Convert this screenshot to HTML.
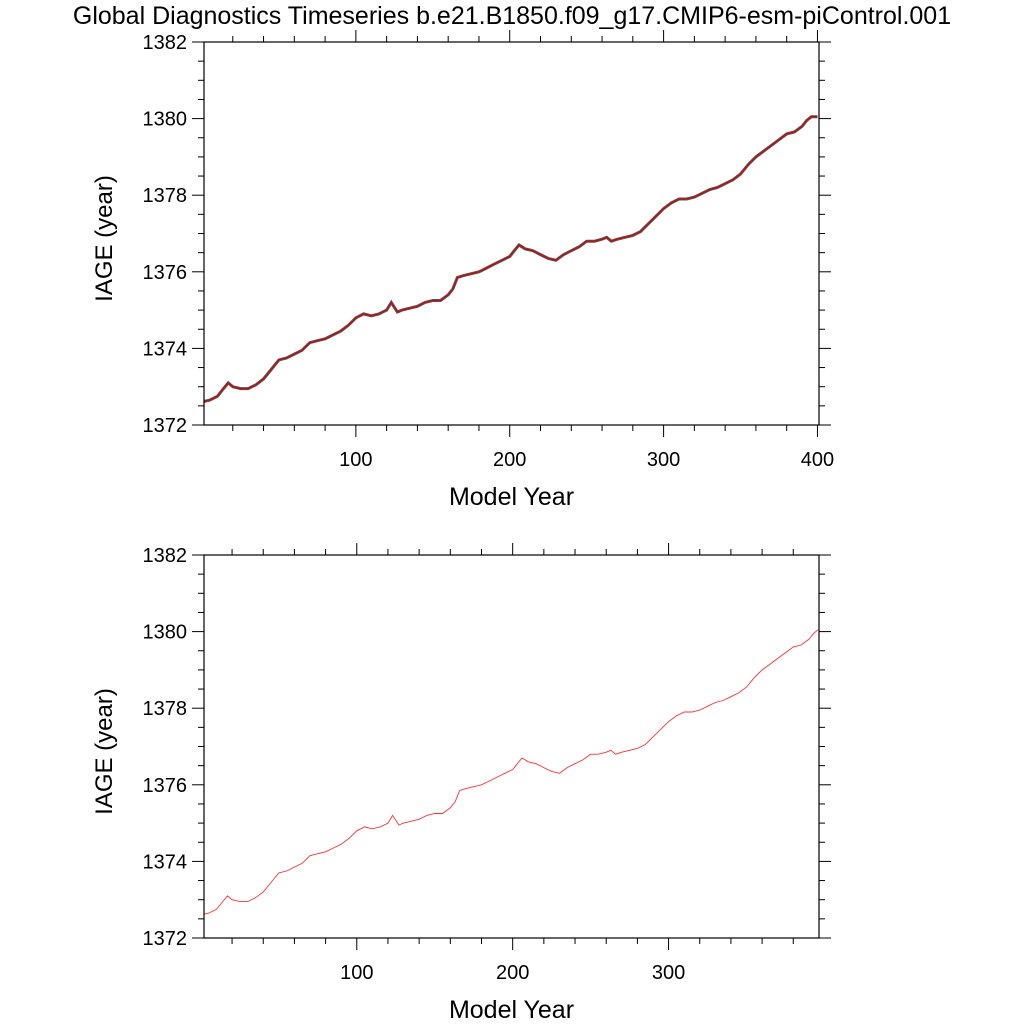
<!DOCTYPE html>
<html><head><meta charset="utf-8"><style>
body{margin:0;background:#fff}
svg text{font-family:"Liberation Sans",sans-serif;fill:#000}
</style></head><body>
<svg id="chart" width="1024" height="1024" viewBox="0 0 1024 1024" xmlns="http://www.w3.org/2000/svg">
<text x="512" y="24" font-size="25" text-anchor="middle">Global Diagnostics Timeseries b.e21.B1850.f09_g17.CMIP6-esm-piControl.001</text>
</svg>
<script>
const years = [0,5,10,14,17,20,25,30,35,40,45,50,55,60,65,70,75,80,85,90,95,100,105,110,115,120,123,127,130,135,140,145,150,155,160,163,166,170,175,180,185,190,195,200,203,206,210,215,220,225,230,235,240,245,250,255,260,263,266,270,275,280,285,290,295,300,305,310,315,320,325,330,335,340,345,350,355,360,365,370,375,380,385,390,393,396,400];
const iage = [1372.6,1372.65,1372.75,1372.95,1373.1,1373.0,1372.95,1372.95,1373.05,1373.2,1373.45,1373.7,1373.75,1373.85,1373.95,1374.15,1374.2,1374.25,1374.35,1374.45,1374.6,1374.8,1374.9,1374.85,1374.9,1375.0,1375.2,1374.95,1375.0,1375.05,1375.1,1375.2,1375.25,1375.25,1375.4,1375.55,1375.85,1375.9,1375.95,1376.0,1376.1,1376.2,1376.3,1376.4,1376.55,1376.7,1376.6,1376.55,1376.45,1376.35,1376.3,1376.45,1376.55,1376.65,1376.8,1376.8,1376.85,1376.9,1376.8,1376.85,1376.9,1376.95,1377.05,1377.25,1377.45,1377.65,1377.8,1377.9,1377.9,1377.95,1378.05,1378.15,1378.2,1378.3,1378.4,1378.55,1378.8,1379.0,1379.15,1379.3,1379.45,1379.6,1379.65,1379.8,1379.95,1380.05,1380.05];
const yTicks = [1372,1374,1376,1378,1380,1382];
const xTicksTop = [100,200,300,400];
const xTicksBot = [100,200,300];
const NS='http://www.w3.org/2000/svg';
const svg=document.getElementById('chart');
function mk(tag,attrs,parent){const e=document.createElementNS(NS,tag);for(const k in attrs)e.setAttribute(k,attrs[k]);(parent||svg).appendChild(e);return e;}
function panel(id,L,R,T,B,x0,x1,xt,noisy){
  const g=mk('g',{});
  
  
  const sx=v=>L+(v-x0)/(x1-x0)*(R-L);
  const sy=v=>B-(v-1372)/10*(B-T);
  for(let v=20;v<x1;v+=20){const x=sx(v);if(x<=L+1||x>=R-1)continue;const maj=v%100===0;
    mk('line',{x1:x,x2:x,y1:B,y2:B+(maj?12:6),stroke:'#000','stroke-width':1},g);
    mk('line',{x1:x,x2:x,y1:T,y2:T-(maj?12:6),stroke:'#000','stroke-width':1},g);}
  for(let v=1372;v<=1382.001;v+=0.5){const y=sy(v);const maj=Math.abs(v%2)<0.01;
    mk('line',{x1:L,x2:L-(maj?12:6),y1:y,y2:y,stroke:'#000','stroke-width':1},g);
    mk('line',{x1:R,x2:R+(maj?12:6),y1:y,y2:y,stroke:'#000','stroke-width':1},g);}
  yTicks.forEach(v=>{const t=mk('text',{x:L-17,y:sy(v)+7,'font-size':20,'text-anchor':'end'},g);t.textContent=v;
    
    });
  xt.forEach(v=>{const t=mk('text',{x:sx(v),y:B+41,'font-size':20,'text-anchor':'middle'},g);t.textContent=v;
    
    });
  const cp='clip-'+id;
  const cl=mk('clipPath',{id:cp},g);mk('rect',{x:L,y:T,width:R-L,height:B-T},cl);
  const pts=[];years.forEach((yr,i)=>{if(yr<=x1+3)pts.push(sx(yr).toFixed(1)+','+sy(iage[i]).toFixed(1));});
  if(noisy){const n=mk('polyline',{points:pts.join(' '),fill:'none',stroke:'#555','stroke-width':3,'clip-path':`url(#${cp})`},g);
    
    }
  const r=mk('polyline',{points:pts.join(' '),fill:'none',stroke:noisy?'#d00':'#f33','stroke-width':noisy?1.1:0.9,'clip-path':`url(#${cp})`},g);
  
  
  mk('rect',{x:L,y:T,width:R-L,height:B-T,fill:'none',stroke:'#000','stroke-width':1.2},g);
  const yl=mk('text',{x:0,y:0,'font-size':24,'text-anchor':'middle',transform:`translate(112,${(T+B)/2+5}) rotate(-90)`},g);yl.textContent='IAGE (year)';
  
  
  const xl=mk('text',{x:(L+R)/2,y:B+80,'font-size':25,'text-anchor':'middle'},g);xl.textContent='Model Year';
  
  
}
panel('top-panel',204,819,42,425,1.3,401,xTicksTop,true);
panel('bottom-panel',204,819,555,938,2.0,396.5,xTicksBot,false);
</script>
</body></html>
